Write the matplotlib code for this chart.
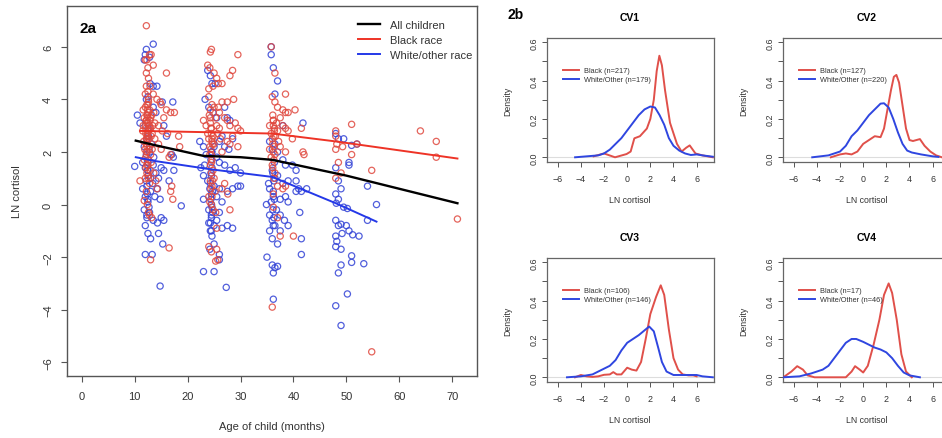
import matplotlib
matplotlib.use("Agg")
import matplotlib.pyplot as plt

plt.rcParams['font.family'] = ['Liberation Sans', 'DejaVu Sans']

W, H = 942, 439

# ---------------- Panel 2a data ----------------
red_x = [12.2, 12, 12.3, 12.8, 13.1, 12.5, 13.5, 12.2, 12.6, 12.2, 12.9, 13.5, 14.2, 14.8, 16, 15, 15.5, 16, 16.8, 17.5,
         14.5, 15.2, 16.2, 18.3, 18.5, 16.8, 16.5, 17, 16.8, 17.2, 16.5, 13, 12.8, 13.2, 11, 11.8, 12, 12.5, 13.6, 14,
         14.2, 13.3, 13.8, 14.5, 15,
         11.6, 11.8, 12.0, 12.1, 12.3, 12.4, 12.5, 12.6, 12.7, 12.8, 12.9, 13.0, 13.1, 13.2, 13.4, 11.7, 11.9, 12.2, 12.4,
         12.6, 12.8, 13.0, 11.5, 11.6, 12.0, 12.2, 12.4, 12.6, 12.8, 13.0, 13.3, 13.6, 13.8, 11.8, 12.1, 12.3, 12.6, 12.9,
         13.1, 12.0, 12.5,
         12.1, 12.2, 12.3, 12.4, 12.5, 12.6, 12.7, 12.2, 12.3, 12.4, 12.5, 12.6, 12.1, 12.3, 12.5, 12.7, 12.2, 12.4,
         12.6, 12.3, 12.5, 12.2, 12.4, 12.6, 12.8,
         24.5, 24.3, 23.8, 24.2, 25, 25.5, 25.8, 26.5, 24.8, 24, 29.5, 28.5, 28, 28.7, 24, 26.5, 27.5, 25, 25.8, 26, 27,
         27.5, 28, 29, 29.5, 30, 28.5, 29.5, 27.5, 28, 26.5, 23, 23.5, 23.8, 24, 24.2, 24.5, 24.8, 25, 25.3, 25.5, 25.7,
         26, 26.2, 24.2, 24.5, 24.8, 25, 24.3, 24.6, 25.2, 24.0, 24.2, 24.8, 25.3, 26.5, 27, 27.6, 28, 25.5, 24, 24.5,
         25.5, 25.3, 25.7, 24.3, 24.6, 24.1,
         24.3, 24.4, 24.5, 24.6, 24.7, 24.4, 24.5, 24.6, 24.3, 24.5, 24.7, 24.4, 24.6, 24.5, 24.3, 24.6,
         35.8, 36.5, 38.5, 36, 36.5, 37, 38, 38.5, 39, 40.3, 37.5, 38, 38.5, 39, 35.5, 35.8, 36, 36.2, 36.4, 36.6, 36.8,
         37, 37.2, 35.5, 35.8, 36, 36.3, 36.5, 37.5, 38.5, 39.8, 41.5, 41.8, 42, 37, 38, 38.5, 36.2, 37, 37.5, 40, 36,
         36.5, 36.2,
         36.1, 36.2, 36.3, 36.1, 36.2, 36.3, 36.4, 36.1, 36.3, 36.2,
         48, 48, 48.2, 48, 49.3, 48.5, 49, 51, 51, 52, 54.8, 54.8, 64, 67, 67, 71, 48]
red_y = [6.8, 5.5, 5.5, 5.7, 5.7, 5.2, 5.3, 5.0, 4.8, 4.5, 4.5, 4.2, 4.0, 3.9, 5.0, 3.8, 3.3, 3.6, 3.5, 3.5,
         3.0, 2.8, 2.7, 2.6, 2.2, 1.9, 1.8, 0.7, 0.5, 0.2, -1.65, -2.1, -0.4, -0.5, 0.9, 0.15, 1.0, 1.5, 1.2, 0.9,
         0.6, 2.1, 2.5, 2.3, 2.1,
         3.6, 3.3, 3.0, 2.7, 3.8, 3.4, 3.1, 2.8, 2.5, 3.6, 3.2, 2.9, 2.6, 3.4, 3.0, 2.4, 2.1, 2.3, 2.0,
         1.7, 2.2, 1.9, 2.8, 3.0, 3.7, 3.2, 2.6, 3.9, 2.9, 3.3, 2.7, 3.5, 3.1, 1.7, 1.4, 1.2, 1.0, 1.3,
         1.6, 4.2, 4.3,
         1.8, 2.0, 2.2, 2.4, 2.6, 2.8, 3.0, 3.2, 3.4, 3.6, 3.8, 4.0, 2.9, 3.1, 3.3, 2.1, 2.5, 2.7, 3.5, 1.5, 1.1,
         0.5, 0.0, -0.3, 0.8,
         5.9, 5.8, 5.3, 5.2, 5.0, 4.8, 4.6, 4.6, 4.5, 4.4, 5.7, 5.1, 4.9, 4.0, 4.1, 3.9, 3.9, 3.7, 3.7, 3.5, 3.3,
         3.2, 3.0, 3.1, 2.9, 2.8, 2.6, 2.2, 2.4, 2.3, 2.0, 3.2, 3.0, 2.7, 2.5, 2.2, 2.9, 2.6, 2.3, 3.3, 3.0, 2.7,
         2.9, 2.5, 1.9, 1.6, 1.3, 1.0, 0.9, 0.7, 0.5, 0.3, 0.1, -0.2, -0.3, 0.6, 0.8, 0.4, -0.2, -0.9, -1.6, -1.8,
         -1.7, -2.15, -2.1, 3.6, 3.8, 3.4,
         3.1, 2.9, 2.7, 2.5, 2.3, 2.1, 1.9, 1.7, 1.5, 1.2, 0.9, 0.6, 0.3, 0.0, 3.3, 2.4,
         6.0, 5.0, 4.2, 4.1, 3.9, 3.7, 3.6, 3.5, 3.5, 3.6, 3.3, 3.0, 2.9, 2.8, 3.0, 2.7, 2.5, 3.2, 2.9, 2.6, 3.1,
         2.8, 2.4, 2.1, 1.8, 1.5, 2.2, 1.9, 2.2, 2.0, 2.5, 2.9, 2.0, 1.9, 0.7, 0.6, 0.7, -0.1, -0.5, -1.2, -1.2, -3.9,
         1.2, 0.4,
         3.4, 3.0, 2.6, 2.3, 2.0, 1.7, 2.8, 1.4, 1.0, 3.2,
         2.8, 2.6, 2.3, 2.1, 2.2, 1.6, 1.2, 3.05, 1.9, 2.3, 1.3, -5.6, 2.8, 2.4, 1.8, -0.55, 1.0]

blue_x = [12.2, 12, 13.5, 11.8, 12.8, 12.9, 13.5, 14.2, 12.5, 12.2, 15.2, 17.2, 10.5, 11, 13.5, 14, 15.5, 16, 17, 17.3,
          10, 11.5, 12, 12.5, 13, 13.5, 14, 14.5, 15, 15.5, 16.5, 17.4, 11.5, 12, 12.5, 13, 13.4, 13.8, 14.3, 14.8,
          11.8, 12.3, 12.8, 13.5, 14.3, 15, 15.5, 18.8, 12, 12.5, 13, 14.5, 15.3, 12, 13.3, 14.8, 11.8, 12.3, 12.8,
          13.2, 13.6,
          12.2, 12.4, 12.6, 12.3, 12.5, 12.7, 12.2, 12.4, 12.6, 12.3, 12.5, 12.4,
          23.3, 23.8, 24.3, 24.6, 25.2, 24, 24.8, 25.5, 27, 27.5, 28, 22.3, 23, 23.5, 24.5, 25, 25.5, 26, 26.5, 27,
          27.8, 28.5, 26, 27, 28, 29, 30, 22.5, 23, 23.2, 23.8, 24.2, 24.5, 25, 25.5, 26, 26.5, 27.5, 28.5, 29.5, 30,
          23, 24, 24.5, 25, 25.5, 26, 26.5, 27.5, 28.5, 24, 24.3, 24.6, 25, 26, 26, 23, 25, 27.3, 24.2,
          24.4, 24.6, 24.5, 24.3, 24.7, 24.4, 24.6, 24.5, 24.3, 24.5, 24.6, 24.4, 24.5, 24.7,
          35.8, 35.8, 36.2, 37, 36.5, 38, 41.8, 35.5, 36, 36.5, 37, 38, 38.5, 39.8, 40.5, 36, 36.5, 37, 38, 39, 40.5,
          41, 42.5, 40.5, 35.5, 35.8, 36.2, 36.8, 37.5, 38.5, 39, 35.5, 36, 36.5, 37.5, 38.3, 39, 35.5, 36, 37, 37.5,
          35, 36, 36.5, 37, 36.2, 41.5, 41.5, 36.2, 34.9, 35.3,
          36.1, 36.3, 36.2, 36.4, 36.1, 36.3, 36.2, 36.4,
          48, 48.5, 49.5, 52, 51, 50.5, 50.5, 48, 48.5, 49, 48, 48.5, 48.1, 49.5, 50.2, 54, 55.7, 48, 48.5, 49, 50,
          50.5, 48, 49.2, 51.2, 52.4, 48.2, 48, 49, 51, 51, 53.3, 49, 48.5, 50.2, 48, 49, 54, 41.5, 41.2]
blue_y = [5.9, 5.7, 6.1, 5.5, 5.6, 4.6, 4.5, 4.5, 4.1, 4.0, 3.9, 3.9, 3.4, 3.1, 3.7, 3.5, 3.0, 2.6, 1.9, 1.8,
          1.45, 1.6, 1.4, 1.3, 1.0, 1.5, 1.2, 1.0, 1.4, 1.3, 0.9, 1.3, 0.6, 0.3, 0.1, 0.5, 0.8, 0.3, 0.6, 0.2,
          -0.2, -0.4, -0.3, -0.6, -0.7, -0.5, -0.6, -0.05, -0.8, -1.1, -1.3, -1.1, -1.5, -1.9, -1.9, -3.1, 2.2, 2.5,
          2.0, 2.3, 1.8,
          1.9, 1.6, 1.1, 0.7, 0.2, -0.1, 0.9, 1.3, 2.6, -0.5, 2.9, 0.4,
          4.0, 5.1, 4.9, 4.6, 4.6, 3.7, 3.5, 3.3, 3.7, 3.3, 3.2, 2.4, 2.2, 1.9, 2.0, 2.2, 1.8, 2.4, 2.6, 2.2,
          2.1, 2.5, 1.6, 1.5, 1.3, 1.4, 1.2, 1.4, 1.1, 1.5, 0.9, 0.6, 0.4, 0.7, 0.3, 0.6, 0.1, 0.5, 0.6, 0.7, 0.7,
          0.2, -0.2, -0.5, -0.8, -0.6, -0.3, -0.9, -0.8, -0.9, -0.7, -1.0, -1.2, -1.5, -1.9, -2.1, -2.55, -2.55,
          -3.15, -1.7,
          1.7, 1.4, 1.1, 0.8, 0.5, 0.2, -0.1, -0.4, -0.7, -1.0, 2.0, 1.2, 0.0, -0.3,
          6.0, 5.7, 5.2, 4.7, 4.2, 3.0, 3.1, 2.4, 2.1, 2.3, 2.0, 1.7, 1.5, 1.5, 1.3, 1.3, 1.0, 1.1, 0.8, 0.9, 0.9,
          0.6, 0.6, 0.5, 0.6, 0.1, 0.3, -0.2, 0.2, 0.3, 0.1, -0.4, -0.6, -0.8, -0.4, -0.6, -0.8, -1.0, -1.3, -1.5,
          -1.0, -2.0, -2.3, -2.4, -2.35, -2.6, -1.3, -1.9, -3.6, 0.0, 0.8,
          1.2, 0.9, 0.5, 0.2, -0.2, -0.5, -0.8, 1.6,
          2.7, 2.5, 2.5, 2.3, 2.25, 1.6, 1.5, 1.4, 0.9, 0.6, 0.4, 0.2, 0.05, -0.1, -0.15, 0.7, 0.0, -0.6, -0.8,
          -0.75, -0.8, -1.0, -1.2, -1.1, -1.15, -1.2, -1.4, -1.6, -1.7, -1.95, -2.2, -2.25, -2.3, -2.6, -3.4, -3.85,
          -4.6, -0.6, 0.5, -0.3]

# smoothed trend lines
all_line_x = [10.2, 14, 23, 30, 36, 50, 71]
all_line_y = [2.43, 2.25, 1.85, 1.8, 1.7, 1.1, 0.05]
red_line_x = [11, 24, 36, 48, 71]
red_line_y = [2.8, 2.75, 2.7, 2.4, 1.75]
blue_line_x = [10.2, 14, 24, 36, 48, 55.7]
blue_line_y = [1.8, 1.65, 1.35, 1.05, 0.05, -0.65]

legend_labels_a = ["All children", "Black race", "White/other race"]

# ---------------- Panel 2b data ----------------
cv_titles = ["CV1", "CV2", "CV3", "CV4"]
black_n = [217, 127, 106, 17]
white_n = [179, 220, 146, 46]

cv1_black_x = [-2.9, -2.0, -1.05, -0.05, 0.3, 0.62, 1.1, 1.7, 2.0, 2.3, 2.55, 2.78, 3.0, 3.27, 3.7, 4.3, 4.7, 5.1,
               5.4, 5.9, 6.5, 7.4]
cv1_black_y = [0.005, 0.02, 0.0, 0.017, 0.03, 0.099, 0.11, 0.15, 0.2, 0.3, 0.45, 0.53, 0.48, 0.35, 0.18, 0.07,
               0.03, 0.05, 0.062, 0.02, 0.01, 0.0]
cv1_white_x = [-4.5, -3.5, -2.5, -2.0, -1.5, -1.0, -0.5, 0.0, 0.5, 1.0, 1.5, 2.0, 2.4, 2.8, 3.2, 3.6, 4.0, 4.5, 5.0,
               5.5, 6.0, 6.5, 7.4]
cv1_white_y = [0.0, 0.005, 0.01, 0.02, 0.04, 0.07, 0.1, 0.14, 0.18, 0.22, 0.25, 0.265, 0.26, 0.22, 0.17, 0.1, 0.06,
               0.035, 0.02, 0.012, 0.015, 0.01, 0.003]

cv2_black_x = [-2.8, -2.0, -1.5, -1.0, -0.5, 0.0, 0.5, 1.0, 1.5, 1.8, 2.1, 2.4, 2.65, 2.87, 3.1, 3.4, 3.7, 4.0,
               4.3, 4.9, 5.3, 5.8, 6.3, 6.8]
cv2_black_y = [0.0, 0.015, 0.02, 0.015, 0.03, 0.07, 0.09, 0.11, 0.105, 0.15, 0.25, 0.35, 0.42, 0.43, 0.39, 0.27,
               0.15, 0.09, 0.085, 0.095, 0.06, 0.03, 0.01, 0.0]
cv2_white_x = [-4.4, -3.0, -2.0, -1.5, -1.0, -0.5, 0.0, 0.5, 1.0, 1.5, 1.8, 2.2, 2.6, 3.0, 3.4, 3.8, 4.2, 5.0, 5.5,
               6.0, 6.5]
cv2_white_y = [0.0, 0.01, 0.03, 0.06, 0.11, 0.14, 0.18, 0.22, 0.25, 0.28, 0.282, 0.26, 0.2, 0.13, 0.07, 0.035,
               0.025, 0.015, 0.01, 0.005, 0.002]

cv3_black_x = [-4.5, -4.0, -3.5, -3.0, -2.5, -2.0, -1.5, -1.2, -0.9, -0.5, 0.0, 0.4, 0.8, 1.2, 1.6, 2.0, 2.5, 2.9,
               3.2, 3.6, 4.0, 4.4, 4.8, 5.3, 5.7, 6.0]
cv3_black_y = [0.0, 0.012, 0.005, 0.002, 0.005, 0.013, 0.015, 0.027, 0.015, 0.015, 0.05, 0.04, 0.035, 0.08, 0.2,
               0.33, 0.42, 0.48, 0.43, 0.25, 0.1, 0.04, 0.015, 0.01, 0.01, 0.005]
cv3_white_x = [-5.2, -4.0, -3.0, -2.0, -1.5, -1.0, -0.5, 0.0, 0.5, 1.0, 1.5, 1.9, 2.3, 2.7, 3.0, 3.4, 4.0, 5.0, 6.0,
               6.5, 7.4]
cv3_white_y = [0.0, 0.005, 0.015, 0.045, 0.06, 0.09, 0.14, 0.18, 0.2, 0.22, 0.245, 0.265, 0.24, 0.15, 0.08, 0.03,
               0.012, 0.012, 0.012, 0.005, 0.0]

cv4_black_x = [-6.9, -6.2, -5.7, -5.2, -4.8, -4.2, -3.0, -1.5, -1.0, -0.7, -0.3, 0.0, 0.4, 0.9, 1.4, 1.8, 2.2, 2.5,
               2.9, 3.3, 3.7, 4.2]
cv4_black_y = [0.0, 0.03, 0.058, 0.04, 0.01, 0.0, 0.0, 0.0, 0.03, 0.058, 0.04, 0.025, 0.06, 0.17, 0.3, 0.43, 0.49,
               0.44, 0.3, 0.12, 0.03, 0.0]
cv4_white_x = [-6.9, -5.5, -4.5, -3.5, -3.0, -2.5, -2.0, -1.5, -1.0, -0.6, 0.0, 0.5, 1.0, 1.5, 2.0, 2.5, 3.0, 3.5,
               4.0, 4.9]
cv4_white_y = [0.0, 0.005, 0.02, 0.04, 0.06, 0.1, 0.14, 0.18, 0.2, 0.2, 0.185, 0.17, 0.155, 0.145, 0.13, 0.1, 0.06,
               0.025, 0.01, 0.0]

black_curves = [(cv1_black_x, cv1_black_y), (cv2_black_x, cv2_black_y), (cv3_black_x, cv3_black_y),
                (cv4_black_x, cv4_black_y)]
white_curves = [(cv1_white_x, cv1_white_y), (cv2_white_x, cv2_white_y), (cv3_white_x, cv3_white_y),
                (cv4_white_x, cv4_white_y)]

# ---------------- styles ----------------
RED_PT = '#e0493f'
BLUE_PT = '#3343d6'
RED_LN = '#ee3326'
BLUE_LN = '#2438e8'
RED_D = '#e0504a'
BLUE_D = '#2f46e0'
FRAME = '#555555'


def px_rect(l, t, r, b):
    return [l / W, 1 - b / H, (r - l) / W, (b - t) / H]


fig = plt.figure(figsize=(W / 100, H / 100), dpi=100)

# ---------------- 2a ----------------
ax = fig.add_axes(px_rect(67, 7, 477, 377))
ax.scatter(blue_x, blue_y, s=20, facecolors='none', edgecolors=BLUE_PT, linewidths=0.9, alpha=0.85, zorder=2)
ax.scatter(red_x, red_y, s=20, facecolors='none', edgecolors=RED_PT, linewidths=0.9, alpha=0.85, zorder=2)
l1, = ax.plot(all_line_x, all_line_y, color='black', lw=1.7, zorder=3)
l2, = ax.plot(red_line_x, red_line_y, color=RED_LN, lw=1.4, zorder=3)
l3, = ax.plot(blue_line_x, blue_line_y, color=BLUE_LN, lw=1.4, zorder=3)
ax.set_xlim(-2.8, 74.7)
ax.set_ylim(-6.52, 7.55)
ax.set_xticks(range(0, 71, 10))
ax.set_yticks(range(-6, 7, 2))
ax.tick_params(axis='both', direction='out', length=4, width=0.8, color=FRAME, labelsize=8, labelcolor='#333333')
ax.tick_params(axis='x', pad=7)
ax.tick_params(axis='y', pad=6)
for lab in ax.get_yticklabels():
    lab.set_rotation(90)
    lab.set_va('center')
for s in ax.spines.values():
    s.set_color(FRAME)
    s.set_linewidth(1.0)
ax.legend([l1, l2, l3], legend_labels_a, loc='upper left', bbox_to_anchor=(0.685, 0.99), frameon=False,
          fontsize=8.0, handlelength=2.0, labelspacing=0.45, handletextpad=0.9, labelcolor='#333333')
ax.text(0.03, 0.94, "2a", transform=ax.transAxes, fontsize=11, fontweight='bold', va='center', ha='left')
fig.text(272 / W, 1 - 427 / H, "Age of child (months)", ha='center', va='center', fontsize=8, color='#333333')
fig.text(17 / W, 1 - 192 / H, "LN cortisol", ha='center', va='center', rotation=90, fontsize=8, color='#333333')

# ---------------- 2b ----------------
rects = [(547.3, 39.3, 714, 162.7), (783.3, 39.3, 950, 162.7),
         (547.3, 259.3, 714, 382.7), (783.3, 259.3, 950, 382.7)]
for i, (l, t, r, b) in enumerate(rects):
    a = fig.add_axes(px_rect(l, t, r, b))
    bx, by = black_curves[i]
    wx, wy = white_curves[i]
    a.axhline(0, color='#dddddd', lw=0.8, zorder=1)
    h1, = a.plot(bx, by, color=RED_D, lw=1.4, zorder=3)
    h2, = a.plot(wx, wy, color=BLUE_D, lw=1.4, zorder=3)
    a.set_xlim(-6.9, 7.5)
    a.set_ylim(-0.023, 0.621)
    a.set_xticks(range(-6, 7, 2))
    a.set_yticks([0, 0.1, 0.2, 0.3, 0.4, 0.5, 0.6])
    a.set_yticklabels(['0.0', '', '0.2', '', '0.4', '', '0.6'])
    a.tick_params(axis='both', direction='out', length=3.5, width=0.7, color=FRAME, labelsize=6.4,
                  labelcolor='#333333', pad=3)
    a.tick_params(axis='x', pad=5)
    for lab in a.get_yticklabels():
        lab.set_rotation(90)
        lab.set_va('center')
    for s in a.spines.values():
        s.set_color('#666666')
        s.set_linewidth(0.9)
    a.legend([h1, h2], [f"Black (n={black_n[i]})", f"White/Other (n={white_n[i]})"], loc='upper left',
             bbox_to_anchor=(0.055, 0.82), frameon=False, fontsize=5.3, handlelength=2.2, labelspacing=0.25,
             handletextpad=0.6, labelcolor='#333333')
    cxf = 630 / W if i % 2 == 0 else 867 / W
    fig.text(cxf, 1 - (t - 21) / H, cv_titles[i], ha='center', va='center', fontsize=7.5, fontweight='bold')
    fig.text(cxf, 1 - (b + 37.5) / H, "LN cortisol", ha='center', va='center', fontsize=6.3, color='#333333')
    fig.text((l - 39.5) / W, 1 - ((t + b) / 2) / H, "Density", ha='center', va='center', rotation=90,
             fontsize=6.3, color='#333333')

fig.text(507 / W, 1 - 15 / H, "2b", ha='left', va='center', fontsize=10, fontweight='bold')

fig.savefig("out.png", dpi=100)
